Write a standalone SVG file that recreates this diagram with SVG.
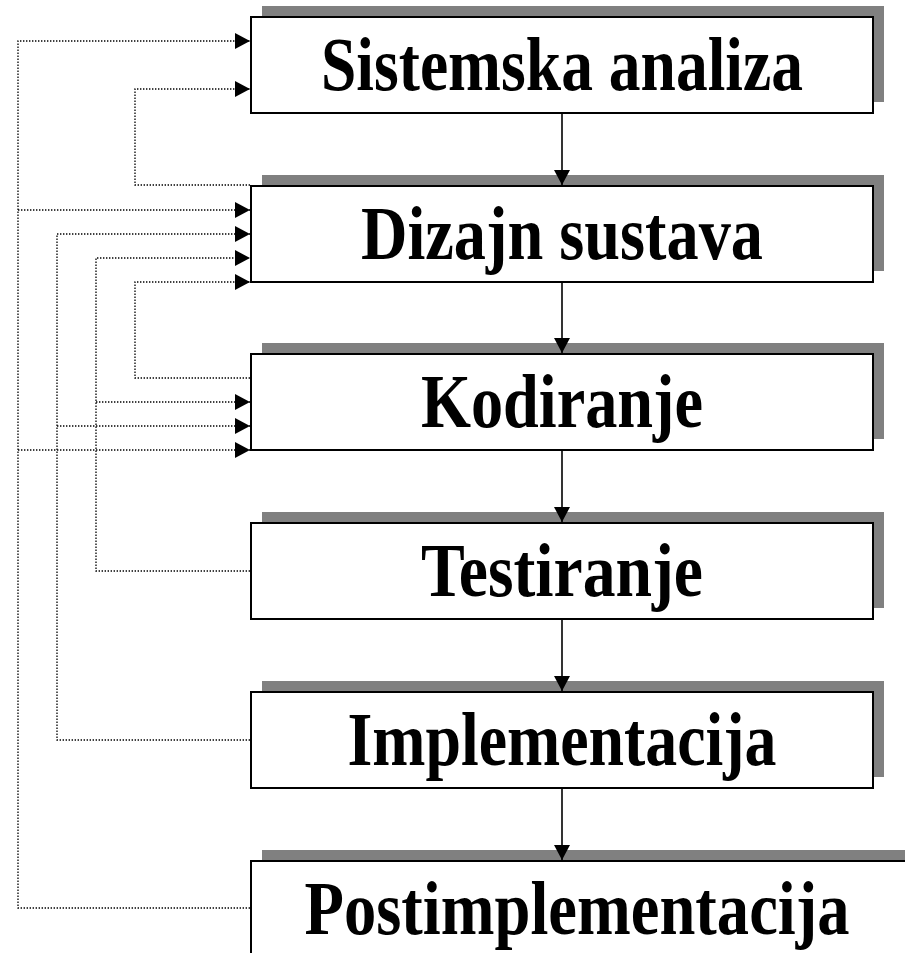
<svg xmlns="http://www.w3.org/2000/svg" width="905" height="953" viewBox="0 0 905 953">
  <style>
    .shadow { fill: #808080; stroke: none; }
    .box { fill: #ffffff; stroke: #000000; stroke-width: 2; }
    .label { font-family: "Liberation Serif", "Times New Roman", serif; font-weight: bold; font-size: 77px; fill: #000000; text-anchor: middle; }
    .flow { fill: none; stroke: #000000; stroke-width: 1.6; }
    .fb { fill: none; stroke: #000000; stroke-width: 1.3; stroke-dasharray: 1.4 1.6; }
  </style>
  <defs>
    <marker id="ahFb" markerUnits="userSpaceOnUse" markerWidth="15" markerHeight="16" refX="15" refY="8" orient="auto">
      <path d="M0,0 L15,8 L0,16 Z" fill="#000000" stroke="none"/>
    </marker>
    <marker id="ahDown" markerUnits="userSpaceOnUse" markerWidth="15" markerHeight="16" refX="15" refY="8" orient="auto">
      <path d="M0,0 L15,8 L0,16 Z" fill="#000000" stroke="none"/>
    </marker>
  </defs>

  <g id="node-sistemska-analiza">
    <rect class="shadow" x="262" y="6" width="622" height="96"/>
    <rect class="box" x="251" y="17" width="622" height="96"/>
    <text class="label" x="562" y="90" textLength="482" lengthAdjust="spacingAndGlyphs">Sistemska analiza</text>
  </g>
  <g id="node-dizajn-sustava">
    <rect class="shadow" x="262" y="175" width="622" height="96"/>
    <rect class="box" x="251" y="186" width="622" height="96"/>
    <text class="label" x="562" y="259" textLength="402" lengthAdjust="spacingAndGlyphs">Dizajn sustava</text>
  </g>
  <g id="node-kodiranje">
    <rect class="shadow" x="262" y="343" width="622" height="96"/>
    <rect class="box" x="251" y="354" width="622" height="96"/>
    <text class="label" x="562" y="427" textLength="282" lengthAdjust="spacingAndGlyphs">Kodiranje</text>
  </g>
  <g id="node-testiranje">
    <rect class="shadow" x="262" y="512" width="622" height="96"/>
    <rect class="box" x="251" y="523" width="622" height="96"/>
    <text class="label" x="562" y="596" textLength="282" lengthAdjust="spacingAndGlyphs">Testiranje</text>
  </g>
  <g id="node-implementacija">
    <rect class="shadow" x="262" y="681" width="622" height="96"/>
    <rect class="box" x="251" y="692" width="622" height="96"/>
    <text class="label" x="562" y="765" textLength="429" lengthAdjust="spacingAndGlyphs">Implementacija</text>
  </g>
  <g id="node-postimplementacija">
    <rect class="shadow" x="262" y="850" width="660" height="96"/>
    <rect class="box" x="251" y="861" width="660" height="96"/>
    <text class="label" x="577" y="934" textLength="545" lengthAdjust="spacingAndGlyphs">Postimplementacija</text>
  </g>

  <g id="connectors">
    <path class="flow" d="M562,114 V185" marker-end="url(#ahDown)"/>
    <path class="flow" d="M562,283 V353" marker-end="url(#ahDown)"/>
    <path class="flow" d="M562,451 V522" marker-end="url(#ahDown)"/>
    <path class="flow" d="M562,620 V691" marker-end="url(#ahDown)"/>
    <path class="flow" d="M562,789 V860" marker-end="url(#ahDown)"/>

    <!-- Postimplementacija feedback -->
    <path class="fb" d="M250,908 H18 V41 H250" marker-end="url(#ahFb)"/>
    <path class="fb" d="M18,210 H250" marker-end="url(#ahFb)"/>
    <path class="fb" d="M18,450 H250" marker-end="url(#ahFb)"/>
    <!-- Implementacija feedback -->
    <path class="fb" d="M250,740 H57 V234 H250" marker-end="url(#ahFb)"/>
    <path class="fb" d="M57,426 H250" marker-end="url(#ahFb)"/>
    <!-- Testiranje feedback -->
    <path class="fb" d="M250,571 H96 V258 H250" marker-end="url(#ahFb)"/>
    <path class="fb" d="M96,402 H250" marker-end="url(#ahFb)"/>
    <!-- Kodiranje feedback -->
    <path class="fb" d="M250,378 H135 V282 H250" marker-end="url(#ahFb)"/>
    <!-- Dizajn sustava feedback -->
    <path class="fb" d="M250,185 H135 V89 H250" marker-end="url(#ahFb)"/>
  </g>
</svg>
